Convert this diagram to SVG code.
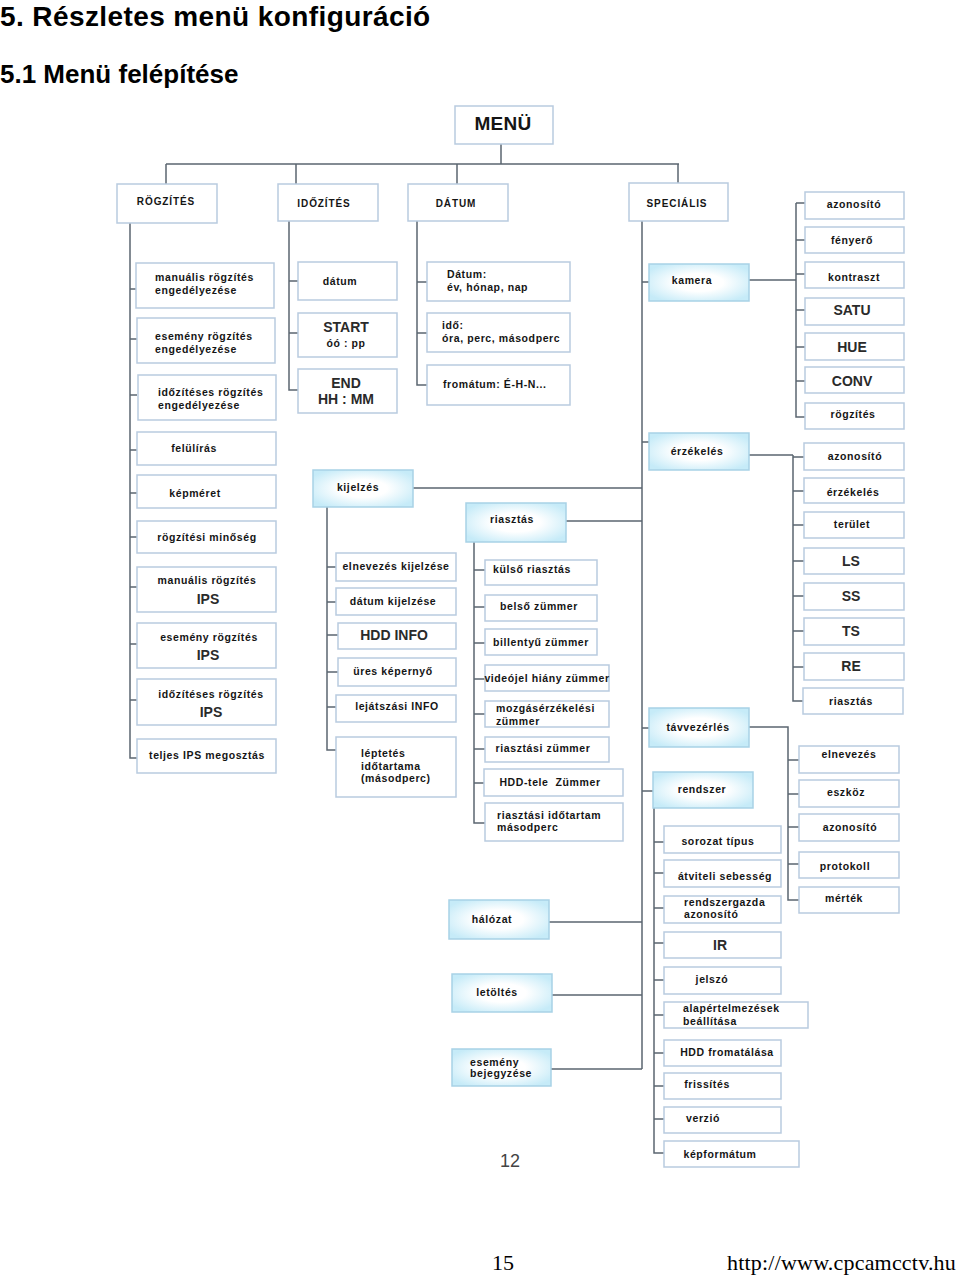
<svg xmlns="http://www.w3.org/2000/svg" width="960" height="1275" viewBox="0 0 960 1275">
<defs>
<radialGradient id="glow" cx="50%" cy="50%" r="60%">
<stop offset="0%" stop-color="#ffffff"/>
<stop offset="40%" stop-color="#ffffff"/>
<stop offset="100%" stop-color="#c6ebf8"/>
</radialGradient>
<style>
.bx{fill:#ffffff;stroke:#b9cbdf;stroke-width:1.5}
.bb{fill:url(#glow);stroke:#a8d2e6;stroke-width:1.5}
.ln{stroke:#5b6670;stroke-width:1.5;fill:none}
.t{font-family:"Liberation Sans",Arial,sans-serif;font-weight:bold;font-size:10.5px;letter-spacing:0.6px;fill:#151515}
.m{text-anchor:middle}
.hd{font-size:10px;letter-spacing:0.9px}
.big{font-size:14px;letter-spacing:0;fill:#2a2a2a}
.ttl{font-family:"Liberation Sans",Arial,sans-serif;font-weight:bold;fill:#000}
.ft{font-family:"Liberation Serif","Times New Roman",serif;font-size:22px;fill:#000}
</style>
</defs>
<rect width="960" height="1275" fill="#ffffff"/>
<text class="ttl" x="0" y="26" font-size="28" letter-spacing="0.4">5. Részletes menü konfiguráció</text>
<text class="ttl" x="0" y="83" font-size="26">5.1 Menü felépítése</text>

<g id="connectors">
<path class="ln" d="M501 144V164M166 164H679M166 164V184M296 164V184M457 164V184M678 164V183"/>
<path class="ln" d="M130 223V758H137M130 289H137M130 339H137M130 395H137M130 450H137M130 493H137M130 537H137M130 587H137M130 644H137M130 700H137"/>
<path class="ln" d="M289 221V390H298M289 281H298M289 333H298"/>
<path class="ln" d="M417 221V385H427M417 282H427M417 333H427"/>
<path class="ln" d="M642 221V1069M642 282H649M642 442H649M642 728H649M642 791H653"/>
<path class="ln" d="M749 280H796M796 203V417H805M796 203H805M796 240H805M796 274H805M796 310H805M796 347H805M796 381H805"/>
<path class="ln" d="M749 455H793M793 455V701H803M793 457H804M793 491H804M793 525H804M793 561H804M793 596H804M793 631H804M793 667H804"/>
<path class="ln" d="M749 727H788V900H799M788 760H799M788 794H799M788 827H799M788 864H799"/>
<path class="ln" d="M654 808V1153H664M654 842H664M654 873H664M654 908H664M654 943H664M654 980H664M654 1015H664M654 1053H664M654 1086H664M654 1119H664"/>
<path class="ln" d="M549 922H642M552 995H642M551 1069H642"/>
<path class="ln" d="M413 488H642M327 507V750H336M327 567H336M327 602H336M327 635H338M327 672H338M327 707H336"/>
<path class="ln" d="M566 521H642M474 542V823H485M474 570H485M474 607H485M474 643H485M474 679H485M474 714H485M474 749H485M474 783H484"/>
</g>

<g id="menu"><rect class="bx" x="455" y="106" width="98" height="38"/><text class="t m" x="503" y="130" style="font-size:19px;letter-spacing:0.3px">MENÜ</text></g>
<g id="rogzites"><rect class="bx" x="117" y="184" width="100" height="39"/><text class="t m hd" x="166" y="205">RÖGZÍTÉS</text></g>
<g id="idozites"><rect class="bx" x="278" y="184" width="100" height="37"/><text class="t m hd" x="324" y="207">IDŐZÍTÉS</text></g>
<g id="datum"><rect class="bx" x="408" y="184" width="100" height="37"/><text class="t m hd" x="456" y="207">DÁTUM</text></g>
<g id="specialis"><rect class="bx" x="629" y="183" width="99" height="38"/><text class="t m hd" x="677" y="207">SPECIÁLIS</text></g>

<g id="r1"><rect class="bx" x="136" y="263" width="138" height="45"/><text class="t" x="155" y="281">manuális rögzítés<tspan x="155" y="294">engedélyezése</tspan></text></g>
<g id="r2"><rect class="bx" x="137" y="318" width="138" height="45"/><text class="t" x="155" y="340">esemény rögzítés<tspan x="155" y="353">engedélyezése</tspan></text></g>
<g id="r3"><rect class="bx" x="138" y="375" width="138" height="45"/><text class="t" x="158" y="396">időzítéses rögzítés<tspan x="158" y="409">engedélyezése</tspan></text></g>
<g id="r4"><rect class="bx" x="137" y="432" width="139" height="33"/><text class="t m" x="194" y="452">felülírás</text></g>
<g id="r5"><rect class="bx" x="137" y="475" width="139" height="33"/><text class="t m" x="195" y="497">képméret</text></g>
<g id="r6"><rect class="bx" x="137" y="521" width="139" height="32"/><text class="t m" x="207" y="541">rögzítési minőség</text></g>
<g id="r7"><rect class="bx" x="137" y="567" width="139" height="45"/><text class="t m" x="207" y="584">manuális rögzítés</text><text class="t m big" x="208" y="604">IPS</text></g>
<g id="r8"><rect class="bx" x="137" y="623" width="139" height="45"/><text class="t m" x="209" y="641">esemény rögzítés</text><text class="t m big" x="208" y="660">IPS</text></g>
<g id="r9"><rect class="bx" x="137" y="679" width="139" height="46"/><text class="t m" x="211" y="698">időzítéses rögzítés</text><text class="t m big" x="211" y="717">IPS</text></g>
<g id="r10"><rect class="bx" x="137" y="739" width="139" height="34"/><text class="t m" x="207" y="759">teljes IPS megosztás</text></g>

<g id="i1"><rect class="bx" x="298" y="262" width="99" height="38"/><text class="t m" x="340" y="285">dátum</text></g>
<g id="i2"><rect class="bx" x="298" y="313" width="99" height="44"/><text class="t m big" x="346" y="332">START</text><text class="t m" x="346" y="347">óó : pp</text></g>
<g id="i3"><rect class="bx" x="298" y="369" width="99" height="44"/><text class="t m big" x="346" y="388">END</text><text class="t m big" x="346" y="404">HH : MM</text></g>

<g id="d1"><rect class="bx" x="427" y="262" width="143" height="39"/><text class="t" x="447" y="278">Dátum:<tspan x="447" y="291">év, hónap, nap</tspan></text></g>
<g id="d2"><rect class="bx" x="427" y="313" width="143" height="39"/><text class="t" x="442" y="329">idő:<tspan x="442" y="342">óra, perc, másodperc</tspan></text></g>
<g id="d3"><rect class="bx" x="427" y="365" width="143" height="40"/><text class="t" x="443" y="388">fromátum: É-H-N...</text></g>

<g id="kamera"><rect class="bb" x="649" y="264" width="100" height="37"/><text class="t m" x="692" y="284">kamera</text></g>
<g id="k1"><rect class="bx" x="805" y="192" width="99" height="27"/><text class="t m" x="854" y="208">azonosító</text></g>
<g id="k2"><rect class="bx" x="805" y="227" width="99" height="26"/><text class="t m" x="852" y="244">fényerő</text></g>
<g id="k3"><rect class="bx" x="805" y="262" width="99" height="26"/><text class="t m" x="854" y="281">kontraszt</text></g>
<g id="k4"><rect class="bx" x="805" y="298" width="99" height="27"/><text class="t m big" x="852" y="315">SATU</text></g>
<g id="k5"><rect class="bx" x="805" y="333" width="99" height="27"/><text class="t m big" x="852" y="352">HUE</text></g>
<g id="k6"><rect class="bx" x="805" y="367" width="99" height="26"/><text class="t m big" x="852" y="386">CONV</text></g>
<g id="k7"><rect class="bx" x="805" y="403" width="99" height="26"/><text class="t m" x="853" y="418">rögzítés</text></g>

<g id="erzekeles"><rect class="bb" x="649" y="433" width="100" height="37"/><text class="t m" x="697" y="455">érzékelés</text></g>
<g id="e1"><rect class="bx" x="804" y="443" width="100" height="27"/><text class="t m" x="855" y="460">azonosító</text></g>
<g id="e2"><rect class="bx" x="804" y="478" width="100" height="25"/><text class="t m" x="853" y="496">érzékelés</text></g>
<g id="e3"><rect class="bx" x="804" y="512" width="100" height="26"/><text class="t m" x="852" y="528">terület</text></g>
<g id="e4"><rect class="bx" x="804" y="548" width="100" height="26"/><text class="t m big" x="851" y="566">LS</text></g>
<g id="e5"><rect class="bx" x="804" y="583" width="100" height="27"/><text class="t m big" x="851" y="601">SS</text></g>
<g id="e6"><rect class="bx" x="804" y="618" width="100" height="27"/><text class="t m big" x="851" y="636">TS</text></g>
<g id="e7"><rect class="bx" x="804" y="653" width="100" height="27"/><text class="t m big" x="851" y="671">RE</text></g>
<g id="e8"><rect class="bx" x="803" y="688" width="100" height="26"/><text class="t m" x="851" y="705">riasztás</text></g>

<g id="tavvezerles"><rect class="bb" x="649" y="708" width="100" height="39"/><text class="t m" x="698" y="731">távvezérlés</text></g>
<g id="t1"><rect class="bx" x="799" y="746" width="100" height="27"/><text class="t m" x="849" y="758">elnevezés</text></g>
<g id="t2"><rect class="bx" x="799" y="780" width="100" height="27"/><text class="t m" x="846" y="796">eszköz</text></g>
<g id="t3"><rect class="bx" x="799" y="814" width="100" height="27"/><text class="t m" x="850" y="831">azonosító</text></g>
<g id="t4"><rect class="bx" x="799" y="852" width="100" height="26"/><text class="t m" x="845" y="870">protokoll</text></g>
<g id="t5"><rect class="bx" x="799" y="887" width="100" height="26"/><text class="t m" x="844" y="902">mérték</text></g>

<g id="rendszer"><rect class="bb" x="653" y="772" width="100" height="36"/><text class="t m" x="702" y="793">rendszer</text></g>
<g id="s1"><rect class="bx" x="664" y="826" width="117" height="27"/><text class="t m" x="718" y="845">sorozat típus</text></g>
<g id="s2"><rect class="bx" x="664" y="860" width="117" height="27"/><text class="t m" x="725" y="880">átviteli sebesség</text></g>
<g id="s3"><rect class="bx" x="664" y="896" width="117" height="27"/><text class="t" x="684" y="906">rendszergazda<tspan x="684" y="918">azonosító</tspan></text></g>
<g id="s4"><rect class="bx" x="664" y="932" width="117" height="26"/><text class="t m big" x="720" y="950">IR</text></g>
<g id="s5"><rect class="bx" x="664" y="967" width="117" height="27"/><text class="t m" x="712" y="983">jelszó</text></g>
<g id="s6"><rect class="bx" x="664" y="1002" width="144" height="26"/><text class="t" x="683" y="1012">alapértelmezések<tspan x="683" y="1025">beállítása</tspan></text></g>
<g id="s7"><rect class="bx" x="664" y="1040" width="117" height="26"/><text class="t m" x="727" y="1056">HDD fromatálása</text></g>
<g id="s8"><rect class="bx" x="664" y="1073" width="117" height="26"/><text class="t m" x="707" y="1088">frissítés</text></g>
<g id="s9"><rect class="bx" x="664" y="1107" width="117" height="26"/><text class="t m" x="703" y="1122">verzió</text></g>
<g id="s10"><rect class="bx" x="664" y="1141" width="135" height="26"/><text class="t m" x="720" y="1158">képformátum</text></g>

<g id="halozat"><rect class="bb" x="449" y="900" width="100" height="39"/><text class="t m" x="492" y="923">hálózat</text></g>
<g id="letoltes"><rect class="bb" x="452" y="974" width="100" height="38"/><text class="t m" x="497" y="996">letöltés</text></g>
<g id="esemeny"><rect class="bb" x="452" y="1049" width="99" height="37"/><text class="t" x="470" y="1066">esemény<tspan x="470" y="1077">bejegyzése</tspan></text></g>

<g id="kijelzes"><rect class="bb" x="313" y="470" width="100" height="37"/><text class="t m" x="358" y="491">kijelzés</text></g>
<g id="j1"><rect class="bx" x="336" y="553" width="120" height="28"/><text class="t m" x="396" y="570">elnevezés kijelzése</text></g>
<g id="j2"><rect class="bx" x="336" y="588" width="120" height="27"/><text class="t m" x="393" y="605">dátum kijelzése</text></g>
<g id="j3"><rect class="bx" x="338" y="623" width="118" height="26"/><text class="t m big" x="394" y="640">HDD INFO</text></g>
<g id="j4"><rect class="bx" x="338" y="658" width="118" height="28"/><text class="t m" x="393" y="675">üres képernyő</text></g>
<g id="j5"><rect class="bx" x="336" y="695" width="120" height="27"/><text class="t m" x="397" y="710">lejátszási INFO</text></g>
<g id="j6"><rect class="bx" x="336" y="737" width="120" height="60"/><text class="t" x="361" y="757">léptetés<tspan x="361" y="770">időtartama</tspan><tspan x="361" y="782">(másodperc)</tspan></text></g>

<g id="riasztas"><rect class="bb" x="466" y="503" width="100" height="39"/><text class="t m" x="512" y="523">riasztás</text></g>
<g id="a1"><rect class="bx" x="485" y="560" width="112" height="25"/><text class="t m" x="532" y="573">külső riasztás</text></g>
<g id="a2"><rect class="bx" x="485" y="595" width="112" height="26"/><text class="t m" x="539" y="610">belső zümmer</text></g>
<g id="a3"><rect class="bx" x="485" y="629" width="112" height="26"/><text class="t m" x="541" y="646">billentyű zümmer</text></g>
<g id="a4"><rect class="bx" x="485" y="665" width="124" height="26"/><text class="t m" x="547" y="682">videójel hiány zümmer</text></g>
<g id="a5"><rect class="bx" x="485" y="701" width="124" height="26"/><text class="t" x="496" y="712">mozgásérzékelési<tspan x="496" y="725">zümmer</tspan></text></g>
<g id="a6"><rect class="bx" x="485" y="737" width="124" height="25"/><text class="t m" x="543" y="752">riasztási zümmer</text></g>
<g id="a7"><rect class="bx" x="484" y="769" width="139" height="27"/><text class="t m" x="550" y="786" xml:space="preserve">HDD-tele  Zümmer</text></g>
<g id="a8"><rect class="bx" x="485" y="803" width="138" height="38"/><text class="t" x="497" y="819">riasztási időtartam<tspan x="497" y="831">másodperc</tspan></text></g>

<text x="510" y="1167" text-anchor="middle" font-family="Liberation Sans, Arial, sans-serif" font-size="18" fill="#444">12</text>
<text class="ft" x="492" y="1270">15</text>
<text class="ft" x="727" y="1270" letter-spacing="0.2">http://www.cpcamcctv.hu</text>
</svg>
